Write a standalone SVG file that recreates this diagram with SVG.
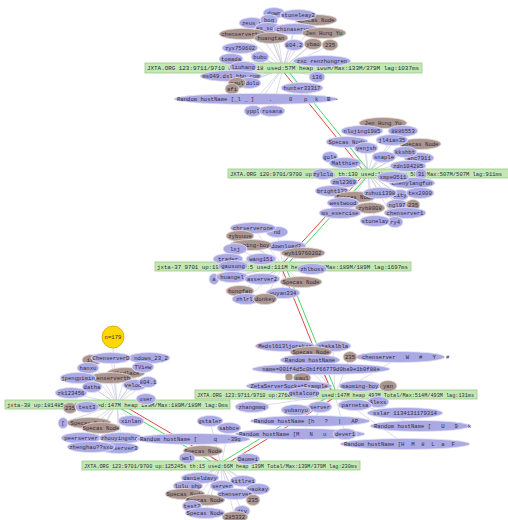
<svg xmlns="http://www.w3.org/2000/svg" width="508" height="520" viewBox="0 0 508 520">
<style>
.l{fill:#aba9e3;stroke:#e4e2f6;stroke-width:0.8}
.b{fill:#ab958f;stroke:#e6dcd8;stroke-width:0.8}
text{font-family:"Liberation Mono","DejaVu Sans Mono",monospace;font-size:5.6px;fill:#2b2b3a;white-space:pre}
.t{text-anchor:middle}
.hub rect{fill:#c4e8b4;stroke:#9ccb8c;stroke-width:0.8}
.sp{fill:none;stroke:#c4c4dc;stroke-width:0.6}
.rd{stroke:#e04848;stroke-width:1}
.gr{stroke:#48d868;stroke-width:1}
</style>
<rect width="508" height="520" fill="#ffffff"/>
<g id="connectors">
<path class="sp" d="M283 68L274 13M283 68L298 15M283 68L316 20M283 68L252 23M283 68L269 20M283 68L268 28M283 68L295 29M283 68L243 34M283 68L324 33M283 68L271 38M283 68L240 48M283 68L294 45M283 68L313 44M283 68L330 45M283 68L260 57M283 68L231 59M283 68L322 61M283 68L231 76M283 68L317 77M283 68L248 83M283 68L237 83M283 68L232 89M283 68L302 88M283 68L256 99M283 68L253 111M283 68L272 111"/>
<path class="sp" d="M368 173L383 123M368 173L362 131M368 173L403 131M368 173L420 144M368 173L347 142M368 173L392 140M368 173L366 148M368 173L330 157M368 173L345 163M368 173L419 158M368 173L405 152M368 173L384 157M368 173L408 166M368 173L412 183M368 173L393 177M368 173L344 182M368 173L332 191M368 173L355 197M368 173L400 195M368 173L380 193M368 173L420 193M368 173L343 203M368 173L397 205M368 173L370 208M368 173L413 205M368 173L405 213M368 173L340 213M368 173L395 222M368 173L375 221"/>
<path class="sp" d="M283 266L277 232M283 266L253 228M283 266L240 236M283 266L286 246M283 266L251 245M283 266L235 249M283 266L303 253M283 266L228 259M283 266L261 259M283 266L214 279M283 266L232 277M283 266L262 279M283 266L301 282M283 266L240 291M283 266L283 293M283 266L246 299M283 266L265 299"/>
<path class="sp" d="M117 404L113 348M117 404L92 360M117 404L149 358M117 404L111 358M117 404L126 373M117 404L88 368M117 404L143 367M117 404L110 378M117 404L78 378M117 404L135 385M117 404L148 382M117 404L92 387M117 404L71 393M117 404L70 408M117 404L63 423M117 404L89 423M117 404L101 428M117 404L131 421M117 404L81 438M117 404L121 438M117 404L119 448M117 404L91 447"/>
<path class="sp" d="M335 395L285 346M335 395L333 346M335 395L400 357M335 395L311 352M335 395L350 357M335 395L310 360M335 395L321 369M335 395L289 377M335 395L302 378M335 395L289 386M335 395L360 386M335 395L388 386M335 395L252 407M335 395L296 410M335 395L320 407M335 395L355 405M335 395L378 400M335 395L405 413M335 395L310 421M335 395L420 426M335 395L300 434M335 395L345 434M335 395L405 444"/>
<path class="sp" d="M221 465L193 439M221 465L210 421M221 465L229 428M221 465L203 451M221 465L187 458M221 465L248 459M221 465L200 478M221 465L188 486M221 465L243 481M221 465L222 486M221 465L258 489M221 465L185 494M221 465L235 494M221 465L205 500M221 465L253 500M221 465L192 506M221 465L242 511M221 465L205 513M221 465L235 517"/>
<line class="gr" x1="284.6" y1="66.7" x2="369.6" y2="171.7"/>
<line class="rd" x1="281.4" y1="69.3" x2="366.4" y2="174.3"/>
<line class="gr" x1="369.5" y1="174.3" x2="284.5" y2="267.3"/>
<line class="rd" x1="366.5" y1="171.7" x2="281.5" y2="264.7"/>
<line class="gr" x1="284.9" y1="265.3" x2="336.9" y2="394.3"/>
<line class="rd" x1="281.1" y1="266.7" x2="333.1" y2="395.7"/>
<line class="rd" x1="118" y1="402.3" x2="222" y2="463.3"/>
<line class="gr" x1="116" y1="405.7" x2="220" y2="466.7"/>
<line class="rd" x1="336" y1="396.7" x2="222" y2="466.7"/>
<line class="gr" x1="334" y1="393.3" x2="220" y2="463.3"/>
</g>
<g id="hubA" class="hub"><rect x="145" y="63" width="277" height="10"/><text x="147" y="70" textLength="272" lengthAdjust="spacingAndGlyphs">JXTA.ORG 123:9711/9710 up:1318:18 used:57M heap 100M/Max:133M/379M lag:1037ms</text></g>
<g id="hubB" class="hub"><rect x="228" y="169" width="281" height="9"/><text x="230" y="175.5" textLength="272" lengthAdjust="spacingAndGlyphs">JXTA.ORG 120:9701/9700 up:98765s th:130 used:185M heap 507M/Max:507M/507M lag:911ms</text></g>
<g id="hubC" class="hub"><rect x="155" y="262" width="256" height="9"/><text x="157" y="268.5" textLength="251" lengthAdjust="spacingAndGlyphs">jxta-37 9701 up:1999823 th:5 used:111M heap 189M/Max:189M/189M lag:1697ms</text></g>
<g id="hubD" class="hub"><rect x="5" y="400" width="225" height="9"/><text x="7" y="406.5" textLength="221" lengthAdjust="spacingAndGlyphs">jxta-38 up:181485ms th:9 used:147M heap 189M/Max:189M/189M lag:0ms</text></g>
<g id="hubE" class="hub"><rect x="195" y="390" width="282" height="9"/><text x="197" y="396.5" textLength="277" lengthAdjust="spacingAndGlyphs">JXTA.ORG 123:9711/9710 up:27683s th:130 used:147M heap 493M Total/Max:514M/493M lag:131ms</text></g>
<g id="hubF" class="hub"><rect x="82" y="461" width="278" height="9"/><text x="84" y="467.5" textLength="273" lengthAdjust="spacingAndGlyphs">JXTA.ORG 123:9701/9700 up:125245s th:15 used:66M heap 139M Total/Max:139M/379M lag:230ms</text></g>
<g id="count"><circle cx="113" cy="337" r="11" fill="#ffd800" stroke="#c9a800" stroke-width="0.8"/><text class="t" x="113" y="339">n=179</text></g>
<g id="a1"><ellipse class="l" cx="274" cy="13" rx="11" ry="5.5"/><text class="t" x="274" y="15">down</text></g>
<g id="a3"><ellipse class="b" cx="316" cy="20" rx="21" ry="5.5"/><text class="t" x="316" y="22">Specas Node</text></g>
<g id="a2"><ellipse class="l" cx="298" cy="15" rx="18" ry="5.5"/><text class="t" x="298" y="17">stoneleay2</text></g>
<g id="a4"><ellipse class="l" cx="252" cy="23" rx="13" ry="5.5"/><text class="t" x="252" y="25">zeus_p</text></g>
<g id="a5"><ellipse class="l" cx="269" cy="20" rx="9" ry="5.5"/><text class="t" x="269" y="22">bog</text></g>
<g id="a6"><ellipse class="l" cx="268" cy="28" rx="13" ry="5.5"/><text class="t" x="268" y="30">es_solu</text></g>
<g id="a7"><ellipse class="l" cx="295" cy="29" rx="22" ry="5.5"/><text class="t" x="295" y="31">chinaserver</text></g>
<g id="a8"><ellipse class="b" cx="243" cy="34" rx="24" ry="5.5"/><text class="t" x="243" y="36">chenserverteb</text></g>
<g id="a9"><ellipse class="b" cx="324" cy="33" rx="22" ry="5.5"/><text class="t" x="324" y="35">Jen Hung Yu</text></g>
<g id="a10"><ellipse class="b" cx="271" cy="38" rx="17" ry="5.5"/><text class="t" x="271" y="40">huangtan</text></g>
<g id="a11"><ellipse class="l" cx="240" cy="48" rx="18" ry="5.5"/><text class="t" x="240" y="50">zyx750602</text></g>
<g id="a12"><ellipse class="l" cx="294" cy="45" rx="10" ry="5.5"/><text class="t" x="294" y="47">804.2</text></g>
<g id="a13"><ellipse class="b" cx="313" cy="44" rx="9" ry="5.5"/><text class="t" x="313" y="46">ybao</text></g>
<g id="a14"><ellipse class="b" cx="330" cy="45" rx="8" ry="5.5"/><text class="t" x="330" y="47">235</text></g>
<g id="a15"><ellipse class="l" cx="260" cy="57" rx="9" ry="5.5"/><text class="t" x="260" y="59">bubu</text></g>
<g id="a16"><ellipse class="l" cx="231" cy="59" rx="12" ry="5.5"/><text class="t" x="231" y="61">tomada</text></g>
<g id="a17"><ellipse class="l" cx="322" cy="61" rx="29" ry="5.5"/><text class="t" x="322" y="63">zxc renzhongren</text></g>
<g id="a18"><ellipse class="l" cx="243" cy="67" rx="14" ry="5.5"/><text class="t" x="243" y="69">liuhang</text></g>
<g id="a19"><ellipse class="l" cx="231" cy="76" rx="31" ry="5.5"/><text class="t" x="231" y="78">ms049.dsl.bbn.com</text></g>
<g id="a20"><ellipse class="l" cx="317" cy="77" rx="8" ry="5.5"/><text class="t" x="317" y="79">136</text></g>
<g id="a21"><ellipse class="l" cx="249" cy="83" rx="12" ry="5.5"/><text class="t" x="249" y="85">ssdolo</text></g>
<g id="a22"><ellipse class="b" cx="237" cy="83" rx="9" ry="5.5"/><text class="t" x="237" y="85">paul</text></g>
<g id="a23"><ellipse class="b" cx="232" cy="89" rx="7" ry="5.5"/><text class="t" x="232" y="91">afi</text></g>
<g id="a24"><ellipse class="l" cx="302" cy="88" rx="21" ry="5.5"/><text class="t" x="302" y="90">hunter33317</text></g>
<g id="a25"><ellipse class="l" cx="256" cy="99" rx="82" ry="5.5"/><text y="101"><tspan x="177">Random hostName [_l _ ]</tspan><tspan x="269">.</tspan><tspan x="289">0</tspan><tspan x="304">p</tspan><tspan x="315">k</tspan><tspan x="327">B</tspan><tspan x="335">-</tspan></text></g>
<g id="a26"><ellipse class="l" cx="253" cy="111" rx="9" ry="5.5"/><text class="t" x="253" y="113">yppl</text></g>
<g id="a27"><ellipse class="l" cx="272" cy="111" rx="13" ry="5.5"/><text class="t" x="272" y="113">rosana</text></g>
<g id="b1"><ellipse class="b" cx="383" cy="123" rx="24" ry="5.5"/><text class="t" x="383" y="125">Jen Hung Yu</text></g>
<g id="b2"><ellipse class="l" cx="362" cy="131" rx="21" ry="5.5"/><text class="t" x="362" y="133">nlujing1985</text></g>
<g id="b3"><ellipse class="l" cx="403" cy="131" rx="15" ry="5.5"/><text class="t" x="403" y="133">8886553</text></g>
<g id="b6"><ellipse class="b" cx="420" cy="144" rx="21" ry="5.5"/><text class="t" x="420" y="146">Specas Node</text></g>
<g id="b4"><ellipse class="l" cx="347" cy="142" rx="21" ry="5.5"/><text class="t" x="347" y="144">Specas Node</text></g>
<g id="b5"><ellipse class="l" cx="392" cy="140" rx="16" ry="5.5"/><text class="t" x="392" y="142">jl4ian35</text></g>
<g id="b7"><ellipse class="l" cx="366" cy="148" rx="12" ry="5.5"/><text class="t" x="366" y="150">yenjsh</text></g>
<g id="b8"><ellipse class="l" cx="330" cy="157" rx="8" ry="5.5"/><text class="t" x="330" y="159">gola</text></g>
<g id="b9"><ellipse class="l" cx="345" cy="163" rx="16" ry="5.5"/><text class="t" x="345" y="165">Matthier</text></g>
<g id="b12"><ellipse class="l" cx="419" cy="158" rx="15" ry="5.5"/><text class="t" x="419" y="160">ahc7911</text></g>
<g id="b11"><ellipse class="l" cx="405" cy="152" rx="12" ry="5.5"/><text class="t" x="405" y="154">kkshbt</text></g>
<g id="b10"><ellipse class="l" cx="384" cy="157" rx="12" ry="5.5"/><text class="t" x="384" y="159">snaple</text></g>
<g id="b13"><ellipse class="l" cx="408" cy="166" rx="18" ry="5.5"/><text class="t" x="408" y="168">zdn104285</text></g>
<g id="b14"><ellipse class="l" cx="323" cy="174" rx="11" ry="5.5"/><text class="t" x="323" y="176">zylclq</text></g>
<g id="b15"><ellipse class="l" cx="421" cy="174" rx="6" ry="5.5"/><text class="t" x="421" y="176">31</text></g>
<g id="b18"><ellipse class="l" cx="412" cy="183" rx="23" ry="5.5"/><text class="t" x="412" y="185">chenylangfun</text></g>
<g id="b17"><ellipse class="l" cx="393" cy="177" rx="16" ry="5.5"/><text class="t" x="393" y="179">xmpe0511</text></g>
<g id="b16"><ellipse class="l" cx="344" cy="182" rx="14" ry="5.5"/><text class="t" x="344" y="184">zml2369</text></g>
<g id="b19"><ellipse class="l" cx="332" cy="191" rx="17" ry="5.5"/><text class="t" x="332" y="193">bright123</text></g>
<g id="b20"><ellipse class="b" cx="355" cy="197" rx="21" ry="5.5"/><text class="t" x="355" y="199">Specas Node</text></g>
<g id="b22"><ellipse class="l" cx="400" cy="195" rx="9" ry="5.5"/><text class="t" x="400" y="197">city</text></g>
<g id="b21"><ellipse class="l" cx="380" cy="193" rx="17" ry="5.5"/><text class="t" x="380" y="195">zuhui1398</text></g>
<g id="b23"><ellipse class="l" cx="420" cy="193" rx="14" ry="5.5"/><text class="t" x="420" y="195">tex2000</text></g>
<g id="b24"><ellipse class="l" cx="343" cy="203" rx="16" ry="5.5"/><text class="t" x="343" y="205">westwood</text></g>
<g id="b26"><ellipse class="l" cx="397" cy="205" rx="11" ry="5.5"/><text class="t" x="397" y="207">ngl97</text></g>
<g id="b25"><ellipse class="b" cx="370" cy="208" rx="15" ry="5.5"/><text class="t" x="370" y="210">zyb8008</text></g>
<g id="b27"><ellipse class="b" cx="413" cy="205" rx="7" ry="5.5"/><text class="t" x="413" y="207">235</text></g>
<g id="b28"><ellipse class="l" cx="405" cy="213" rx="21" ry="5.5"/><text class="t" x="405" y="215">chenserver1</text></g>
<g id="b29"><ellipse class="l" cx="340" cy="213" rx="21" ry="5.5"/><text class="t" x="340" y="215">ms_exercise</text></g>
<g id="b31"><ellipse class="l" cx="395" cy="222" rx="8" ry="5.5"/><text class="t" x="395" y="224">ry4</text></g>
<g id="b30"><ellipse class="l" cx="375" cy="221" rx="15" ry="5.5"/><text class="t" x="375" y="223">stonelay</text></g>
<g id="c2"><ellipse class="l" cx="277" cy="232" rx="11" ry="5.5"/><text class="t" x="277" y="234">nd</text></g>
<g id="c1"><ellipse class="l" cx="253" cy="228" rx="23" ry="5.5"/><text class="t" x="253" y="230">chrserverone</text></g>
<g id="c3"><ellipse class="b" cx="240" cy="236" rx="14" ry="5.5"/><text class="t" x="240" y="238">zybuuue</text></g>
<g id="c5"><ellipse class="l" cx="286" cy="246" rx="20" ry="5.5"/><text class="t" x="286" y="248">download2</text></g>
<g id="c4"><ellipse class="b" cx="251" cy="245" rx="21" ry="5.5"/><text class="t" x="251" y="247">maoming-boy</text></g>
<g id="c6"><ellipse class="l" cx="235" cy="249" rx="12" ry="5.5"/><text class="t" x="235" y="251">lxj</text></g>
<g id="c7"><ellipse class="b" cx="303" cy="253" rx="22" ry="5.5"/><text class="t" x="303" y="255">wyb19760202</text></g>
<g id="c8"><ellipse class="l" cx="228" cy="259" rx="15" ry="5.5"/><text class="t" x="228" y="261">trader</text></g>
<g id="c9"><ellipse class="l" cx="261" cy="259" rx="15" ry="5.5"/><text class="t" x="261" y="261">wang151</text></g>
<g id="c10"><ellipse class="l" cx="233" cy="266" rx="15" ry="5.5"/><text class="t" x="233" y="268">gaosong</text></g>
<g id="c11"><ellipse class="l" cx="312" cy="269" rx="15" ry="5.5"/><text class="t" x="312" y="271">zhlboss</text></g>
<g id="c12"><ellipse class="l" cx="214" cy="279" rx="5" ry="5.5"/><text class="t" x="214" y="281">a</text></g>
<g id="c13"><ellipse class="l" cx="232" cy="277" rx="16" ry="5.5"/><text class="t" x="232" y="279">huangel</text></g>
<g id="c14"><ellipse class="l" cx="262" cy="279" rx="18" ry="5.5"/><text class="t" x="262" y="281">asserver2</text></g>
<g id="c15"><ellipse class="b" cx="301" cy="282" rx="21" ry="5.5"/><text class="t" x="301" y="284">Specas Node</text></g>
<g id="c16"><ellipse class="b" cx="240" cy="291" rx="14" ry="5.5"/><text class="t" x="240" y="293">hongfan</text></g>
<g id="c17"><ellipse class="l" cx="283" cy="293" rx="17" ry="5.5"/><text class="t" x="283" y="295">wuyan334</text></g>
<g id="c18"><ellipse class="l" cx="246" cy="299" rx="14" ry="5.5"/><text class="t" x="246" y="301">zhlrly</text></g>
<g id="c19"><ellipse class="b" cx="265" cy="299" rx="12" ry="5.5"/><text class="t" x="265" y="301">donkey</text></g>
<g id="d1"><ellipse class="b" cx="92" cy="360" rx="10" ry="5.5"/><text class="t" x="90" y="362">i(</text></g>
<g id="d3"><ellipse class="l" cx="149" cy="358" rx="21" ry="5.5"/><text class="t" x="151" y="360">ndows_23_2</text></g>
<g id="d2"><ellipse class="l" cx="111" cy="358" rx="20" ry="5.5"/><text class="t" x="111" y="360">ChenserverD</text></g>
<g id="d6"><ellipse class="b" cx="126" cy="373" rx="19" ry="5.5"/><text class="t" x="126" y="375">dlsdlace</text></g>
<g id="d4"><ellipse class="l" cx="88" cy="368" rx="11" ry="5.5"/><text class="t" x="88" y="370">hanxu</text></g>
<g id="d5"><ellipse class="l" cx="143" cy="367" rx="11" ry="5.5"/><text class="t" x="143" y="369">TView</text></g>
<g id="d8"><ellipse class="b" cx="110" cy="378" rx="22" ry="5.5"/><text class="t" x="110" y="380">chenserverth</text></g>
<g id="d7"><ellipse class="l" cx="78" cy="378" rx="18" ry="5.5"/><text class="t" x="78" y="380">jpengpimin</text></g>
<g id="d9"><ellipse class="l" cx="135" cy="385" rx="12" ry="5.5"/><text class="t" x="133" y="387">veloc</text></g>
<g id="d10"><ellipse class="l" cx="148" cy="382" rx="9" ry="5.5"/><text class="t" x="148" y="384">804.1</text></g>
<g id="d11"><ellipse class="l" cx="92" cy="387" rx="10" ry="5.5"/><text class="t" x="92" y="389">datha</text></g>
<g id="d12"><ellipse class="l" cx="71" cy="393" rx="16" ry="5.5"/><text class="t" x="71" y="395">zk123456</text></g>
<g id="d13"><ellipse class="l" cx="146" cy="399" rx="10" ry="5.5"/><text class="t" x="146" y="401">user</text></g>
<g id="d14"><ellipse class="b" cx="70" cy="408" rx="7" ry="5.5"/><text class="t" x="70" y="410">235</text></g>
<g id="d15"><ellipse class="l" cx="87" cy="407" rx="12" ry="5.5"/><text class="t" x="87" y="409">test3</text></g>
<g id="d16"><ellipse class="l" cx="63" cy="423" rx="5" ry="5.5"/><text class="t" x="63" y="425">[</text></g>
<g id="d17"><ellipse class="b" cx="89" cy="423" rx="22" ry="5.5"/><text class="t" x="89" y="425">Specas Node</text></g>
<g id="d18"><ellipse class="b" cx="101" cy="428" rx="19" ry="5.5"/><text class="t" x="101" y="430">Specas Node</text></g>
<g id="d19"><ellipse class="l" cx="131" cy="421" rx="13" ry="5.5"/><text class="t" x="131" y="423">xinlan</text></g>
<g id="d20"><ellipse class="l" cx="81" cy="438" rx="20" ry="5.5"/><text class="t" x="81" y="440">peerserver</text></g>
<g id="d21"><ellipse class="l" cx="121" cy="438" rx="22" ry="5.5"/><text class="t" x="121" y="440">zhouyingshan</text></g>
<g id="d23"><ellipse class="l" cx="119" cy="448" rx="20" ry="5.5"/><text class="t" x="119" y="450">chenserver3</text></g>
<g id="d22"><ellipse class="l" cx="91" cy="447" rx="24" ry="5.5"/><text class="t" x="91" y="449">zhenghao??sxo</text></g>
<g id="e1"><ellipse class="l" cx="285" cy="346" rx="30" ry="5.5"/><text class="t" x="285" y="348">Medsl613ljorekar</text></g>
<g id="e2"><ellipse class="l" cx="333" cy="346" rx="18" ry="5.5"/><text class="t" x="333" y="348">shakalbla</text></g>
<g id="e3"><ellipse class="l" cx="400" cy="357" rx="45" ry="5.5"/><text x="362" y="359">chenserver   W   #   Y   #</text></g>
<g id="e4"><ellipse class="b" cx="311" cy="352" rx="21" ry="5.5"/><text class="t" x="311" y="354">Specas Node</text></g>
<g id="e5"><ellipse class="b" cx="350" cy="357" rx="7" ry="5.5"/><text class="t" x="350" y="359">235</text></g>
<g id="e6"><ellipse class="l" cx="310" cy="360" rx="30" ry="5.5"/><text class="t" x="310" y="362">Random hostName</text></g>
<g id="e7"><ellipse class="l" cx="321" cy="369" rx="69" ry="5.5"/><text class="t" x="321" y="371">name=001f4d5c0b1f66779d0ba9e1b0f88e</text></g>
<g id="e8"><ellipse class="b" cx="289" cy="377" rx="4" ry="4"/></g>
<g id="e9"><ellipse class="b" cx="302" cy="378" rx="9" ry="5.5"/><text class="t" x="302" y="380">paul</text></g>
<g id="e10"><ellipse class="l" cx="289" cy="386" rx="43" ry="5.5"/><text class="t" x="289" y="388">ZetaServerSocketExample</text></g>
<g id="e11"><ellipse class="l" cx="360" cy="386" rx="21" ry="5.5"/><text class="t" x="360" y="388">maoming-boy</text></g>
<g id="e12"><ellipse class="b" cx="388" cy="386" rx="9" ry="5.5"/><text class="t" x="388" y="388">yan</text></g>
<g id="e13"><ellipse class="l" cx="304" cy="393" rx="16" ry="5.5"/><text class="t" x="304" y="395">gstalcorp</text></g>
<g id="e18"><ellipse class="l" cx="378" cy="402" rx="11" ry="5.5"/><text class="t" x="378" y="404">Alexs</text></g>
<g id="e14"><ellipse class="l" cx="252" cy="407" rx="17" ry="5.5"/><text class="t" x="252" y="409">zhangmmq</text></g>
<g id="e17"><ellipse class="l" cx="355" cy="405" rx="17" ry="5.5"/><text class="t" x="355" y="407">parnetsa</text></g>
<g id="e16"><ellipse class="l" cx="320" cy="407" rx="12" ry="5.5"/><text class="t" x="320" y="409">server</text></g>
<g id="e15"><ellipse class="l" cx="296" cy="410" rx="15" ry="5.5"/><text class="t" x="296" y="412">yubanyu</text></g>
<g id="e19"><ellipse class="l" cx="405" cy="413" rx="38" ry="5.5"/><text class="t" x="405" y="415">sslar 1134131179314</text></g>
<g id="e20"><ellipse class="l" cx="210" cy="421" rx="13" ry="5.5"/><text class="t" x="210" y="423">gstaler</text></g>
<g id="e22"><ellipse class="l" cx="310" cy="421" rx="60" ry="5.5"/><text x="254" y="423">Random hostName [h   ?   |   AP</text></g>
<g id="e23"><ellipse class="l" cx="420" cy="426" rx="50" ry="5.5"/><text x="374" y="428">Random hostName [   U   9   k</text></g>
<g id="e21"><ellipse class="l" cx="229" cy="428" rx="12" ry="5.5"/><text class="t" x="229" y="430">sabbce</text></g>
<g id="e24"><ellipse class="l" cx="300" cy="434" rx="65" ry="5.5"/><text x="239" y="436">Random hostName [M   N   u</text></g>
<g id="e25"><ellipse class="l" cx="345" cy="434" rx="12" ry="5.5"/><text class="t" x="345" y="436">dever1</text></g>
<g id="e26"><ellipse class="l" cx="405" cy="444" rx="65" ry="5.5"/><text x="344" y="446">Random hostName [H  M  8  L  a  F</text></g>
<g id="f0"><ellipse class="l" cx="193" cy="439" rx="57" ry="5.5"/><text x="140" y="441">Random hostName [     q   -39q</text></g>
<g id="f1"><ellipse class="b" cx="203" cy="451" rx="20" ry="5.5"/><text class="t" x="203" y="453">Specas Node</text></g>
<g id="f2"><ellipse class="l" cx="187" cy="458" rx="8" ry="5.5"/><text class="t" x="187" y="460">wml</text></g>
<g id="f3"><ellipse class="l" cx="248" cy="459" rx="12" ry="5.5"/><text class="t" x="248" y="461">Daomei</text></g>
<g id="f4"><ellipse class="l" cx="200" cy="478" rx="19" ry="5.5"/><text class="t" x="200" y="480">danieldavy</text></g>
<g id="f5"><ellipse class="l" cx="188" cy="486" rx="15" ry="5.5"/><text class="t" x="188" y="488">lulu_php</text></g>
<g id="f7"><ellipse class="l" cx="243" cy="481" rx="13" ry="5.5"/><text class="t" x="243" y="483">kitlrei</text></g>
<g id="f6"><ellipse class="l" cx="222" cy="486" rx="12" ry="5.5"/><text class="t" x="222" y="488">server</text></g>
<g id="f8"><ellipse class="l" cx="258" cy="489" rx="12" ry="5.5"/><text class="t" x="258" y="491">yaokay</text></g>
<g id="f9"><ellipse class="b" cx="185" cy="494" rx="20" ry="5.5"/><text class="t" x="185" y="496">Specas Node</text></g>
<g id="f10"><ellipse class="l" cx="235" cy="494" rx="18" ry="5.5"/><text class="t" x="235" y="496">chenserver</text></g>
<g id="f11"><ellipse class="b" cx="205" cy="500" rx="20" ry="5.5"/><text class="t" x="205" y="502">Specas Node</text></g>
<g id="f12"><ellipse class="b" cx="253" cy="500" rx="7" ry="5.5"/><text class="t" x="253" y="502">235</text></g>
<g id="f13"><ellipse class="l" cx="192" cy="506" rx="10" ry="5.5"/><text class="t" x="192" y="508">test2</text></g>
<g id="f14"><ellipse class="l" cx="242" cy="511" rx="8" ry="5.5"/><text class="t" x="242" y="513">div</text></g>
<g id="f15"><ellipse class="l" cx="205" cy="513" rx="20" ry="5.5"/><text class="t" x="205" y="515">Specas Node</text></g>
<g id="f16"><ellipse class="b" cx="235" cy="517" rx="13" ry="5.5"/><text class="t" x="235" y="519">285332</text></g>
</svg>
